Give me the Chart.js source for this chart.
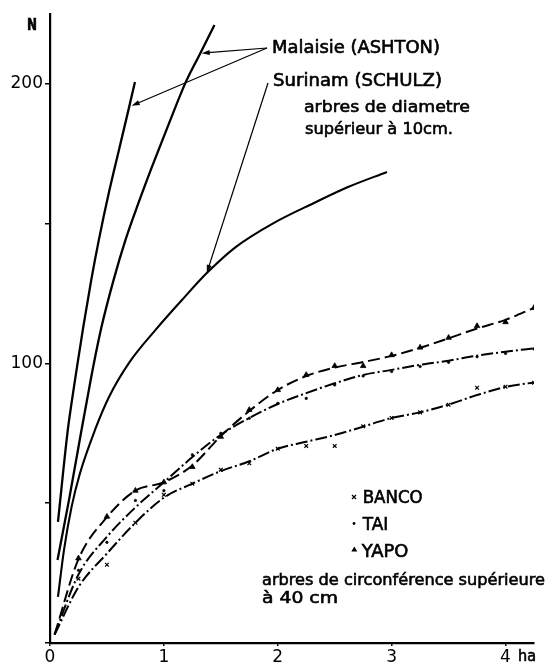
<!DOCTYPE html>
<html>
<head>
<meta charset="utf-8">
<script src="https://cdn.jsdelivr.net/npm/chart.js@4.4.1/dist/chart.umd.min.js"></script>
<style>
  html, body { margin: 0; padding: 0; background: #fff; }
  canvas { display: block; }
</style>
</head>
<body>
<canvas id="c" width="546" height="663"></canvas>
<script>
// ---------- data ----------
// Malaisie (ASHTON), steeper curve
const malaisieA_ha = [0.070, 0.153, 0.193, 0.237, 0.292, 0.362, 0.429, 0.522, 0.605, 0.689, 0.746];
const malaisieA_N  = [43.3,  75.1,  86.9,  98.7,  113.0, 129.8, 144.2, 162.0, 176.3, 190.7, 200.7];
// Malaisie (ASHTON), second curve
const malaisieB_ha = [0.066, 0.167, 0.272, 0.325, 0.379, 0.452, 0.558, 0.663, 0.777, 0.896, 1.045, 1.194, 1.319, 1.444];
const malaisieB_N  = [29.7,  51.2,  75.1,  86.9,  98.7,  113.0, 129.8, 144.2, 157.4, 170.4, 185.9, 200.8, 210.9, 221.1];
// Surinam (SCHULZ)
const surinam_ha = [0.070, 0.123, 0.189, 0.264, 0.395, 0.518, 0.694, 0.927, 1.159, 1.379, 1.633, 1.967, 2.318, 2.617, 2.959];
const surinam_N  = [16.5,  33.3,  48.6,  60.8,  76.2,  88.0,  100.2, 112.0, 122.7, 132.4, 141.7, 150.3, 157.4, 163.1, 168.5];

// sample areas (quarter hectares) for the plotted counts
const areas = [0.25, 0.5, 0.75, 1.0, 1.25, 1.5, 1.75, 2.0, 2.25, 2.5, 2.75, 3.0, 3.25, 3.5, 3.75, 4.0, 4.25];
const bancoPoints = [23, 28, 43, 53, 57, 62, 64.3, 69.5, 70.5, 70.5, 77.5, 80.5, 82.5, 85.2, 91.3, 91.7, 93.1];
const taiPoints   = [26, 36, 51, 54.5, 67.3, 75, 80.4, 85.7, 87.5, 92.3, 95.5, 97.1, 98.9, 100.4, 102.4, 103.6, 105.2];
const yapoPoints  = [30.3, 45.2, 54.5, 57.5, 63, 73.8, 83.4, 90.5, 95.9, 99.1, 99.1, 103, 105.7, 109.2, 113.4, 114.8, 119.9];

// fitted curves drawn through the points
const curveAreas = [0.04, 0.25, 0.5, 0.75, 1.0, 1.25, 1.5, 1.75, 2.0, 2.25, 2.5, 2.75, 3.0, 3.25, 3.5, 3.75, 4.0, 4.25];
const bancoCurve = [3, 20, 32, 43, 52, 57, 61.5, 65, 69.5, 72, 74.4, 77.4, 80.5, 82.5, 85.3, 88.7, 91.6, 93.2];
const taiCurve   = [3, 24.5, 38, 48.5, 57.5, 66.5, 74.5, 80.5, 85.5, 89.4, 92.9, 95.9, 97.7, 99.5, 101, 102.8, 104.2, 105.4];
const yapoCurve  = [3, 30, 45, 54.5, 57.5, 63.5, 74, 83, 90.5, 95.5, 98.5, 100.5, 102.7, 105.6, 109, 112.5, 115.6, 119.9];

// axis ticks
const yTickLabels = [100, 200];
const xTickLabels = [0, 1, 2, 3, 4];

// ---------- helpers ----------
const pts = (xs, ys) => xs.map((x, i) => ({ x: x, y: ys[i] }));
const FONT = '"DejaVu Sans", "Liberation Sans", sans-serif';
const INK = '#000';

function solidCurve(xs, ys, w) {
  return { data: pts(xs, ys), showLine: true, borderColor: INK, borderWidth: w,
    pointRadius: 0, cubicInterpolationMode: 'monotone', fill: false };
}
function dashedCurve(xs, ys, dash) {
  return { data: pts(xs, ys), showLine: true, borderColor: INK, borderWidth: 2,
    borderDash: dash, pointRadius: 0, cubicInterpolationMode: 'monotone', fill: false };
}
function markers(xs, ys, style, r, bw) {
  return { data: pts(xs, ys), showLine: false, pointStyle: style, pointRadius: r,
    borderColor: INK, backgroundColor: INK, pointBorderWidth: bw };
}

function fitText(ctx, s, x, base, size, width, weight) {
  ctx.save();
  ctx.font = (weight || 'normal') + ' ' + size + 'px ' + FONT;
  ctx.textBaseline = 'alphabetic';
  ctx.textAlign = 'left';
  const w = ctx.measureText(s).width;
  ctx.translate(x, base);
  if (width) ctx.scale(width / w, 1);
  ctx.fillStyle = INK;
  ctx.strokeStyle = INK;
  ctx.lineWidth = 0.6;
  ctx.fillText(s, 0, 0);
  ctx.strokeText(s, 0, 0);
  ctx.restore();
}
function arrow(ctx, x1, y1, x2, y2) {
  ctx.save();
  ctx.strokeStyle = INK; ctx.fillStyle = INK; ctx.lineWidth = 1.2;
  const a = Math.atan2(y2 - y1, x2 - x1);
  const L = 8, H = 2.6;
  ctx.beginPath(); ctx.moveTo(x1, y1);
  ctx.lineTo(x2 - Math.cos(a) * L * 0.8, y2 - Math.sin(a) * L * 0.8); ctx.stroke();
  ctx.beginPath();
  ctx.moveTo(x2, y2);
  ctx.lineTo(x2 - Math.cos(a) * L + Math.sin(a) * H, y2 - Math.sin(a) * L - Math.cos(a) * H);
  ctx.lineTo(x2 - Math.cos(a) * L - Math.sin(a) * H, y2 - Math.sin(a) * L + Math.cos(a) * H);
  ctx.closePath(); ctx.fill();
  ctx.restore();
}

const annotations = {
  id: 'annotations',
  afterDraw(chart) {
    const ctx = chart.ctx;
    const xs = chart.scales.x, ys = chart.scales.y;
    const px = v => xs.getPixelForValue(v), py = v => ys.getPixelForValue(v);

    // axis titles
    fitText(ctx, 'N', 27, 30, 16, 10, 'bold');
    fitText(ctx, 'ha', 518, 661, 15, 18);

    // upper labels
    fitText(ctx, 'Malaisie (ASHTON)', 272, 53, 17, 168);
    fitText(ctx, 'Surinam (SCHULZ)', 273, 86, 17, 169);
    fitText(ctx, 'arbres de diametre', 304, 112, 16, 166);
    fitText(ctx, 'supérieur à 10cm.', 305, 134, 16, 148);

    // arrows from labels to curves
    arrow(ctx, 267, 48, px(1.332), py(211));
    arrow(ctx, 267, 48, px(0.717), py(192.2));
    arrow(ctx, 268, 83, px(1.377), py(132.4));

    // legend
    ctx.save();
    ctx.strokeStyle = INK; ctx.fillStyle = INK; ctx.lineWidth = 1.2;
    ctx.beginPath();
    ctx.moveTo(352, 495); ctx.lineTo(356, 499); ctx.moveTo(356, 495); ctx.lineTo(352, 499);
    ctx.stroke();
    ctx.beginPath(); ctx.arc(354, 523.5, 1.4, 0, Math.PI * 2); ctx.fill();
    ctx.beginPath(); ctx.moveTo(354.3, 546.5); ctx.lineTo(357.3, 551.5); ctx.lineTo(351.3, 551.5);
    ctx.closePath(); ctx.fill();
    ctx.restore();
    fitText(ctx, 'BANCO', 362.7, 503.3, 17, 60);
    fitText(ctx, 'TAI', 362.7, 530, 17, 25.6);
    fitText(ctx, 'YAPO', 361.7, 557.3, 17, 46.6);

    // lower caption
    fitText(ctx, 'arbres de circonférence supérieure', 262, 585, 16, 283);
    fitText(ctx, 'à 40 cm', 262, 603.3, 16, 76);
  }
};

new Chart(document.getElementById('c'), {
  type: 'scatter',
  data: {
    datasets: [
      solidCurve(malaisieA_ha, malaisieA_N, 2.3),
      solidCurve(malaisieB_ha, malaisieB_N, 2.3),
      solidCurve(surinam_ha, surinam_N, 2.1),
      dashedCurve(curveAreas, bancoCurve, [12, 3, 2, 3]),
      dashedCurve(curveAreas, taiCurve, [12, 3, 2, 3]),
      dashedCurve(curveAreas, yapoCurve, [12, 5]),
      markers(areas, bancoPoints, 'crossRot', 2.6, 1.2),
      markers(areas, taiPoints, 'circle', 1.3, 0.5),
      markers(areas, yapoPoints, 'triangle', 3.2, 0.8)
    ]
  },
  options: {
    responsive: false,
    animation: false,
    events: [],
    layout: { padding: { top: 14, right: 12, left: 0, bottom: 0 } },
    plugins: { legend: { display: false }, tooltip: { enabled: false }, title: { display: false } },
    scales: {
      x: {
        type: 'linear', min: 0, max: 4.25,
        ticks: {
          stepSize: 1, includeBounds: false, color: INK, padding: 1,
          font: { family: FONT, size: 17 },
          callback: v => (xTickLabels.includes(v) ? String(v) : '')
        },
        grid: { drawOnChartArea: false, drawTicks: true, tickLength: 3, color: INK, lineWidth: 1.5 },
        border: { display: true, color: INK, width: 2.2 },
        afterFit: s => { s.height = 20; }
      },
      y: {
        type: 'linear', min: 0, max: 225,
        ticks: {
          stepSize: 50, includeBounds: false, color: INK, padding: 2,
          font: { family: FONT, size: 17 },
          callback: v => (yTickLabels.includes(v) ? String(v) : '')
        },
        grid: { drawOnChartArea: false, drawTicks: true, tickLength: 5, color: INK, lineWidth: 1.5 },
        border: { display: true, color: INK, width: 2.2 },
        afterFit: s => { s.width = 50; }
      }
    }
  },
  plugins: [annotations]
});
</script>
</body>
</html>
